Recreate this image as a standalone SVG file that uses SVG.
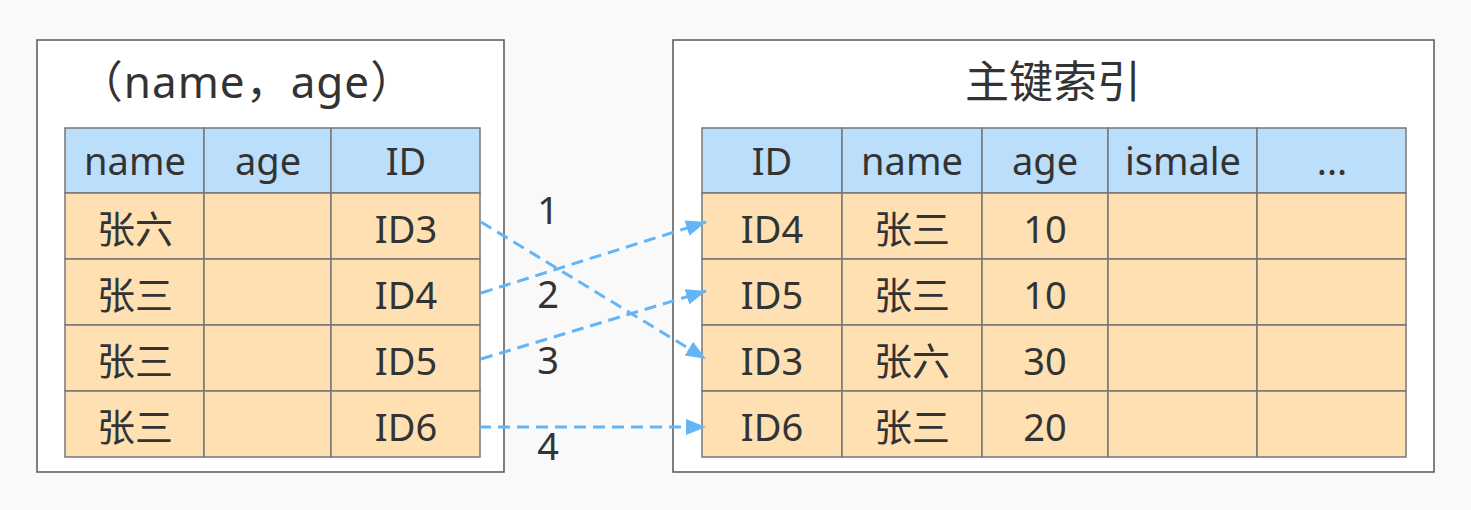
<svg xmlns="http://www.w3.org/2000/svg" width="1471" height="510" viewBox="0 0 1471 510">
<defs>
<style>
.bg{fill:#f9f9f9}
.box{fill:#ffffff;stroke:#555555;stroke-width:1.5}
.hd{fill:#bbdefb;stroke:#777777;stroke-width:1.5}
.cell{fill:#fee0b3;stroke:#777777;stroke-width:1.5}
text{font-family:"Noto Sans","Noto Sans CJK SC",sans-serif;fill:#333333;text-anchor:middle}
.t{font-size:38px}
.ttl{font-size:44px}
.conn{fill:none;stroke:#64b5f6;stroke-width:3;stroke-dasharray:12,7}
</style>
<marker id="arr" viewBox="0 0 20 16" refX="20" refY="8" markerWidth="20" markerHeight="16" markerUnits="userSpaceOnUse" orient="auto">
<path d="M0,0 L20,8 L0,16 z" fill="#64b5f6"/>
</marker>
</defs>
<rect class="bg" x="0" y="0" width="1471" height="510"/>

<g id="left-index">
<rect class="box" x="37" y="40" width="467" height="432"/>
<text class="ttl" x="247" y="98" letter-spacing="1">（name，age）</text>
<rect class="hd" x="65" y="128" width="139" height="65"/>
<rect class="hd" x="204" y="128" width="127" height="65"/>
<rect class="hd" x="331" y="128" width="149" height="65"/>
<text class="t" x="135" y="175">name</text>
<text class="t" x="268" y="175">age</text>
<text class="t" x="406" y="175">ID</text>
<rect class="cell" x="65" y="193" width="139" height="66"/>
<rect class="cell" x="204" y="193" width="127" height="66"/>
<rect class="cell" x="331" y="193" width="149" height="66"/>
<rect class="cell" x="65" y="259" width="139" height="66"/>
<rect class="cell" x="204" y="259" width="127" height="66"/>
<rect class="cell" x="331" y="259" width="149" height="66"/>
<rect class="cell" x="65" y="325" width="139" height="66"/>
<rect class="cell" x="204" y="325" width="127" height="66"/>
<rect class="cell" x="331" y="325" width="149" height="66"/>
<rect class="cell" x="65" y="391" width="139" height="66"/>
<rect class="cell" x="204" y="391" width="127" height="66"/>
<rect class="cell" x="331" y="391" width="149" height="66"/>
<text class="t" x="135" y="243">张六</text>
<text class="t" x="406" y="243">ID3</text>
<text class="t" x="135" y="309">张三</text>
<text class="t" x="406" y="309">ID4</text>
<text class="t" x="135" y="375">张三</text>
<text class="t" x="406" y="375">ID5</text>
<text class="t" x="135" y="441">张三</text>
<text class="t" x="406" y="441">ID6</text>
</g>

<g id="primary-index">
<rect class="box" x="673" y="40" width="761" height="432"/>
<text class="ttl" x="1053" y="98">主键索引</text>
<rect class="hd" x="702" y="128" width="140" height="65"/>
<rect class="hd" x="842" y="128" width="140" height="65"/>
<rect class="hd" x="982" y="128" width="126" height="65"/>
<rect class="hd" x="1108" y="128" width="149" height="65"/>
<rect class="hd" x="1257" y="128" width="149" height="65"/>
<text class="t" x="772" y="175">ID</text>
<text class="t" x="912" y="175">name</text>
<text class="t" x="1045" y="175">age</text>
<text class="t" x="1183" y="175">ismale</text>
<text class="t" x="1332" y="175">...</text>
<g>
<rect class="cell" x="702" y="193" width="140" height="66"/>
<rect class="cell" x="842" y="193" width="140" height="66"/>
<rect class="cell" x="982" y="193" width="126" height="66"/>
<rect class="cell" x="1108" y="193" width="149" height="66"/>
<rect class="cell" x="1257" y="193" width="149" height="66"/>
<rect class="cell" x="702" y="259" width="140" height="66"/>
<rect class="cell" x="842" y="259" width="140" height="66"/>
<rect class="cell" x="982" y="259" width="126" height="66"/>
<rect class="cell" x="1108" y="259" width="149" height="66"/>
<rect class="cell" x="1257" y="259" width="149" height="66"/>
<rect class="cell" x="702" y="325" width="140" height="66"/>
<rect class="cell" x="842" y="325" width="140" height="66"/>
<rect class="cell" x="982" y="325" width="126" height="66"/>
<rect class="cell" x="1108" y="325" width="149" height="66"/>
<rect class="cell" x="1257" y="325" width="149" height="66"/>
<rect class="cell" x="702" y="391" width="140" height="66"/>
<rect class="cell" x="842" y="391" width="140" height="66"/>
<rect class="cell" x="982" y="391" width="126" height="66"/>
<rect class="cell" x="1108" y="391" width="149" height="66"/>
<rect class="cell" x="1257" y="391" width="149" height="66"/>
</g>
<text class="t" x="772" y="243">ID4</text>
<text class="t" x="912" y="243">张三</text>
<text class="t" x="1045" y="243">10</text>
<text class="t" x="772" y="309">ID5</text>
<text class="t" x="912" y="309">张三</text>
<text class="t" x="1045" y="309">10</text>
<text class="t" x="772" y="375">ID3</text>
<text class="t" x="912" y="375">张六</text>
<text class="t" x="1045" y="375">30</text>
<text class="t" x="772" y="441">ID6</text>
<text class="t" x="912" y="441">张三</text>
<text class="t" x="1045" y="441">20</text>
</g>

<g id="connectors">
<path class="conn" d="M481,222 L706,359" marker-end="url(#arr)"/>
<path class="conn" d="M481,293 L706,222" marker-end="url(#arr)"/>
<path class="conn" d="M481,359 L706,291" marker-end="url(#arr)"/>
<path class="conn" d="M479,427 L706,427" marker-end="url(#arr)"/>
<text class="t" x="548" y="224">1</text>
<text class="t" x="548" y="308">2</text>
<text class="t" x="548" y="374">3</text>
<text class="t" x="548" y="460">4</text>
</g>
</svg>
